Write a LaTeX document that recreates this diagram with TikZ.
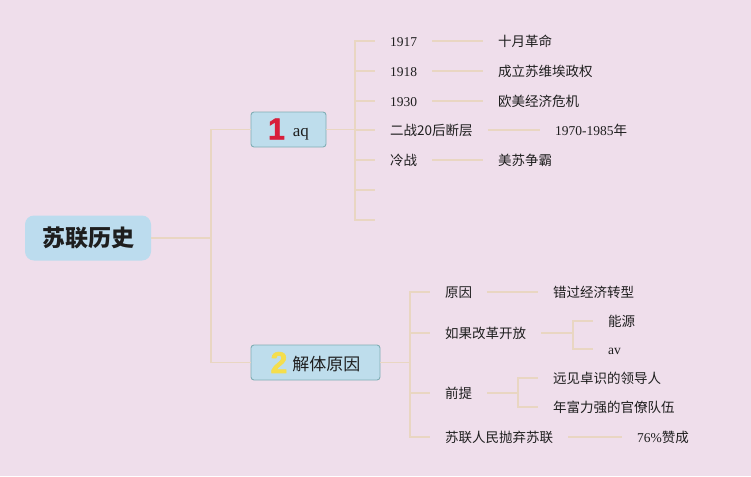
\documentclass[tikz,border=0pt]{standalone}
\usepackage{fontspec}
\setmainfont{Liberation Serif}
\newfontfamily\cjk{Noto Sans CJK SC}
\newfontfamily\numfont[FakeBold=2]{Liberation Sans Bold}
\definecolor{bg}{HTML}{EFDEEB}
\definecolor{connc}{HTML}{E9D6C2}
\definecolor{boxf}{HTML}{BEDDEC}
\definecolor{boxb}{HTML}{80AEB5}
\definecolor{rootf}{HTML}{BCDCEE}
\definecolor{txt}{HTML}{1E1E1E}
\definecolor{numred}{HTML}{D81E3A}
\definecolor{numyel}{HTML}{F5DE4C}
\tikzset{
  conn/.style={draw=connc, line width=1.3pt},
  leaf/.style={anchor=west, inner xsep=15pt, inner ysep=0pt, text height=13pt, text depth=2pt,
    font=\fontsize{13.5}{16}\selectfont, text=txt},
  topic/.style={draw=boxb, fill=boxf, rounded corners=3pt, line width=0.9pt, minimum height=35pt,
    inner sep=0pt, text=txt, font=\fontsize{17}{20}\selectfont},
  rootbox/.style={fill=rootf, rounded corners=9pt, minimum width=126pt, minimum height=45pt,
    inner sep=0pt, text=txt, font=\cjk\bfseries\fontsize{23}{27}\selectfont}
}
\newcommand{\bignum}[2]{\raisebox{-2.5pt}{\numfont\fontsize{30}{30}\selectfont\color{#1}#2}}
\begin{document}
\begin{tikzpicture}[x=1pt,y=-1pt]
\fill[bg] (0,0) rectangle (751,476);
\useasboundingbox (0,0) rectangle (751,476);

% root
\node[rootbox] (root) at (88,238) {苏联历史};

% main topics
\node[topic, minimum width=75pt] (n1) at (288.5,129.5)
  {\bignum{numred}{1}\hspace{8pt}aq\hspace{2pt}};
\node[topic, minimum width=129pt] (n2) at (315.5,362.5)
  {\bignum{numyel}{2}\hspace{5pt}{\cjk 解体原因}\hspace{3pt}};

\coordinate (j1) at (211,238);
\draw[conn] (root.east) -- (j1);
\draw[conn] (j1) |- (n1.west);
\draw[conn] (j1) |- (n2.west);

% branch 1
\coordinate (j2) at (355,129.5);
\node[leaf] (a1) at (375,41) {1917};
\node[leaf] (a2) at (375,71) {1918};
\node[leaf] (a3) at (375,101) {1930};
\node[leaf] (a4) at (375,130) {\cjk 二战20后断层};
\node[leaf] (a5) at (375,160) {\cjk 冷战};
\coordinate (a6) at (375,190);
\coordinate (a7) at (375,220);
\node[leaf] (b1) at (483,41) {\cjk 十月革命};
\node[leaf] (b2) at (483,71) {\cjk 成立苏维埃政权};
\node[leaf] (b3) at (483,101) {\cjk 欧美经济危机};
\node[leaf] (b4) at (540,130) {1970-1985{\cjk 年}};
\node[leaf] (b5) at (483,160) {\cjk 美苏争霸};

\draw[conn] (n1.east) -- (j2);
\foreach \c in {a1,a2,a3,a4,a5}{\draw[conn] (j2) |- (\c.west);}
\draw[conn] (j2) |- (a6);
\draw[conn] (j2) |- (a7);
\foreach \i in {1,...,5}{\draw[conn] (a\i.east) -- (b\i.west);}

% branch 2
\coordinate (j3) at (410,362.5);
\node[leaf] (c1) at (430,292) {\cjk 原因};
\node[leaf] (c2) at (430,333) {\cjk 如果改革开放};
\node[leaf] (c3) at (430,393) {\cjk 前提};
\node[leaf] (c4) at (430,437) {\cjk 苏联人民抛弃苏联};
\node[leaf] (d1) at (538,292) {\cjk 错过经济转型};
\coordinate (j4) at (573,333);
\node[leaf] (d2a) at (593,321) {\cjk 能源};
\node[leaf] (d2b) at (593,349) {av};
\coordinate (j5) at (518,393);
\node[leaf] (d3a) at (538,378) {\cjk 远见卓识的领导人};
\node[leaf] (d3b) at (538,407) {\cjk 年富力强的官僚队伍};
\node[leaf] (d4) at (622,437) {76\%{\cjk 赞成}};

\draw[conn] (n2.east) -- (j3);
\foreach \c in {c1,c2,c3,c4}{\draw[conn] (j3) |- (\c.west);}
\draw[conn] (c1.east) -- (d1.west);
\draw[conn] (c2.east) -- (j4);
\draw[conn] (j4) |- (d2a.west);
\draw[conn] (j4) |- (d2b.west);
\draw[conn] (c3.east) -- (j5);
\draw[conn] (j5) |- (d3a.west);
\draw[conn] (j5) |- (d3b.west);
\draw[conn] (c4.east) -- (d4.west);
\end{tikzpicture}
\end{document}
